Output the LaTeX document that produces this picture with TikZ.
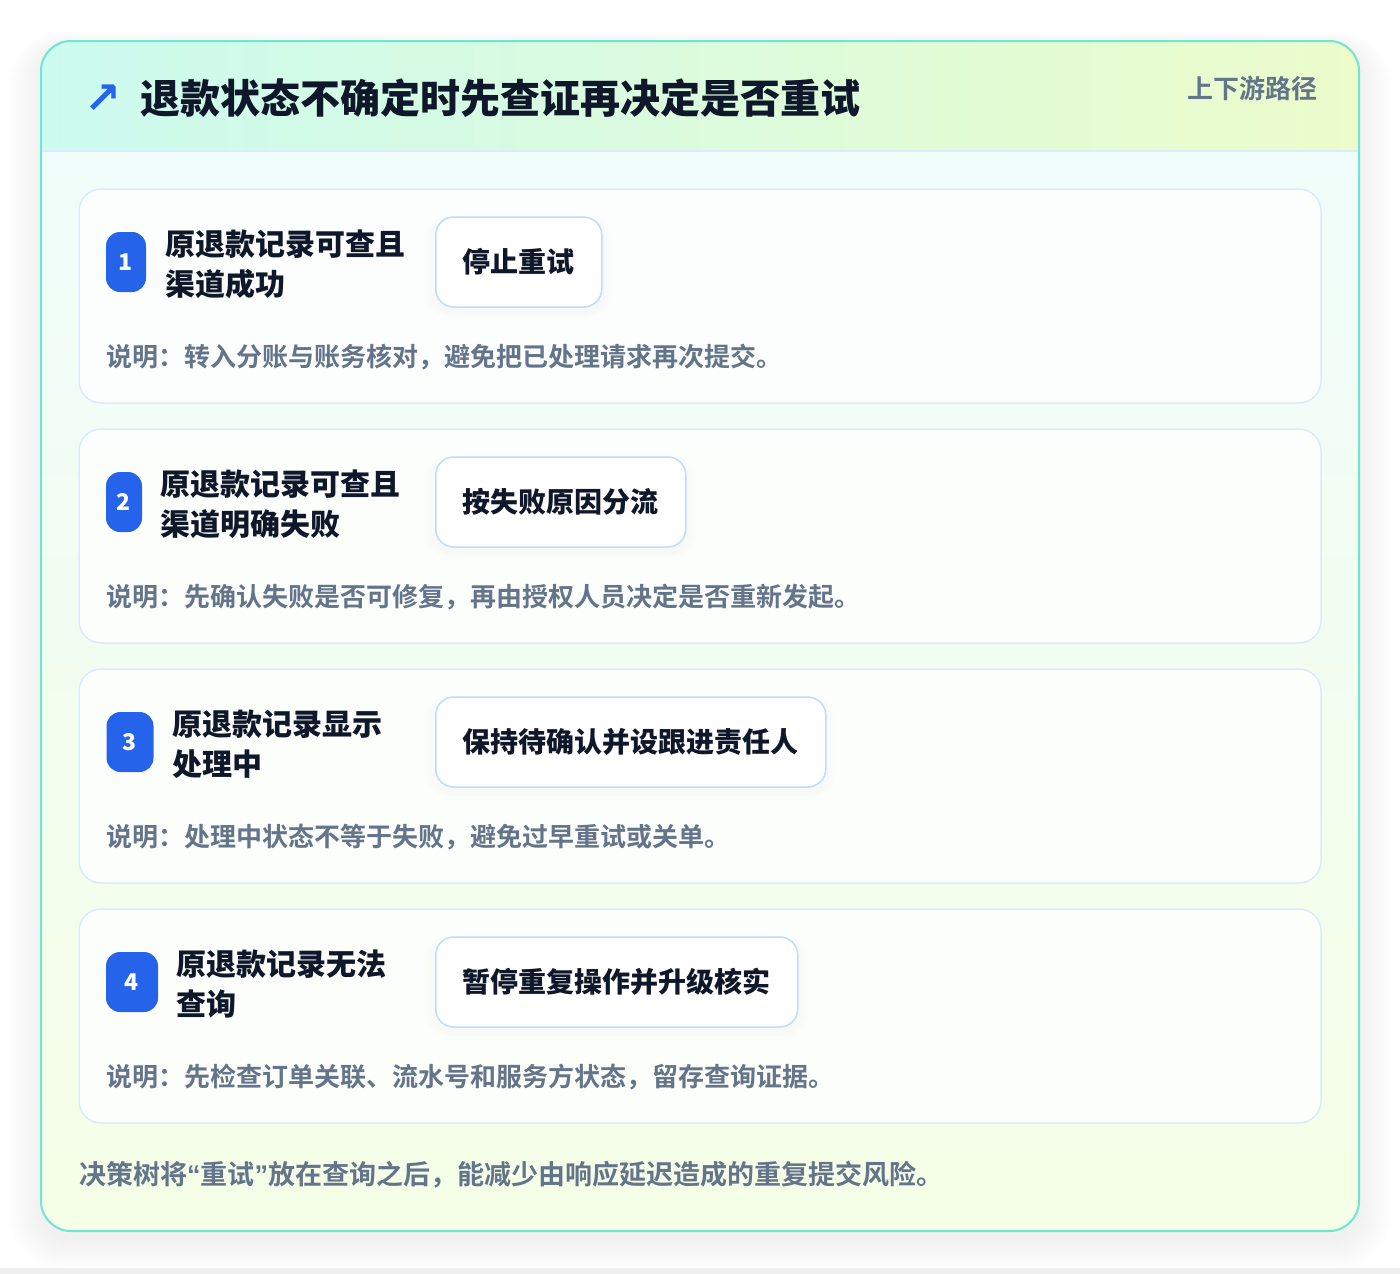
\documentclass[tikz,border=0pt]{standalone}
\usepackage{fontspec}
\setmainfont{Noto Sans CJK SC}[BoldFont={Noto Sans CJK SC Bold}]
\newfontface\heavy{Noto Sans CJK SC Black}
\newfontfamily\symfont{DejaVu Sans}
\newfontfamily\quotefont{Liberation Sans}
\definecolor{cardline}{HTML}{6EE7D2}
\definecolor{headleft}{HTML}{CCFBEF}
\definecolor{headright}{HTML}{ECFCCB}
\definecolor{bodytop}{HTML}{F0FDFA}
\definecolor{bodybottom}{HTML}{F5FEE6}
\definecolor{rowline}{HTML}{DBEAFE}
\definecolor{actline}{HTML}{BFDBFE}
\definecolor{badgeblue}{HTML}{2563EB}
\definecolor{inkdark}{HTML}{0F172A}
\definecolor{inkgray}{HTML}{64748B}
\pgfdeclarelayer{back}
\pgfdeclarelayer{shade}
\pgfsetlayers{back,shade,main}
\tikzset{
    rowbox/.style={draw=rowline, line width=1.5pt, rounded corners=22pt, fill=white, fill opacity=0.8},
    badge/.style={fill=badgeblue, rounded corners=14pt, minimum height=60pt, inner sep=0pt,
        text=white, font=\fontsize{23}{23}\selectfont\heavy},
    cond/.style={anchor=west, align=left, text=inkdark, inner sep=0pt,
        font=\fontsize{30}{40}\selectfont\heavy},
    action/.style={anchor=west, draw=actline, line width=1.5pt, rounded corners=18pt, fill=white,
        minimum height=90pt, inner xsep=27pt, text=inkdark, font=\fontsize{28}{28}\selectfont\heavy},
    note/.style={anchor=west, inner sep=0pt, text=inkgray, font=\fontsize{26}{26}\selectfont\bfseries}
}
\begin{document}
\begin{tikzpicture}[x=1pt, y=-1pt]
    \useasboundingbox (0, 0) rectangle (1400, 1274);

    % card
    \begin{pgfonlayer}{back}
        \fill[white] (0, 0) rectangle (1400, 1274);
        \foreach \i in {1,...,14}
            \fill[black, opacity=0.0045, rounded corners=30+2*\i]
                (41-2.4*\i, 47-1.2*\i) rectangle (1359+2.4*\i, 1241+2*\i);
        \fill[black!6] (0, 1268) rectangle (1400, 1274);
        \begin{scope}
            \clip[rounded corners=30pt] (41, 41) rectangle (1359, 1231);
            \shade[top color=bodytop, bottom color=bodybottom] (41, 151) rectangle (1359, 1231);
            \shade[left color=headleft, right color=headright] (41, 41) rectangle (1359, 151);
            \draw[rowline, line width=1.5pt] (41, 151) -- (1359, 151);
        \end{scope}
        \draw[cardline, line width=2pt, rounded corners=30pt] (41, 41) rectangle (1359, 1231);
    \end{pgfonlayer}

    \node[anchor=west, inner sep=0pt, text=badgeblue, font=\symfont\fontsize{44}{44}\selectfont\bfseries]
        (icon) at (84, 99) {↗};
    \node[anchor=west, inner sep=0pt, text=inkdark, font=\fontsize{40}{40}\selectfont\heavy]
        (title) at (140, 98) {退款状态不确定时先查证再决定是否重试};
    \node[anchor=east, inner sep=0pt, text=inkgray, font=\fontsize{26}{26}\selectfont\bfseries]
        (scope) at (1318, 89) {上下游路径};

    % rows
    \draw[rowbox] (79, 189) rectangle (1321, 403);
    \draw[rowbox] (79, 429) rectangle (1321, 643);
    \draw[rowbox] (79, 669) rectangle (1321, 883);
    \draw[rowbox] (79, 909) rectangle (1321, 1123);

    \node[badge, minimum width=40pt] (b1) at (126, 262) {1};
    \node[cond] (c1) at (165, 264) {原退款记录可查且\\渠道成功};
    \node[action] (a1) at (435, 262) {停止重试};
    \node[note] (n1) at (106, 357) {说明：转入分账与账务核对，避免把已处理请求再次提交。};

    \node[badge, minimum width=36pt] (b2) at (124, 502) {2};
    \node[cond] (c2) at (160, 504) {原退款记录可查且\\渠道明确失败};
    \node[action] (a2) at (435, 502) {按失败原因分流};
    \node[note] (n2) at (106, 597) {说明：先确认失败是否可修复，再由授权人员决定是否重新发起。};

    \node[badge, minimum width=47pt] (b3) at (130, 742) {3};
    \node[cond] (c3) at (172, 744) {原退款记录显示\\处理中};
    \node[action] (a3) at (435, 742) {保持待确认并设跟进责任人};
    \node[note] (n3) at (106, 837) {说明：处理中状态不等于失败，避免过早重试或关单。};

    \node[badge, minimum width=52pt] (b4) at (132, 982) {4};
    \node[cond] (c4) at (176, 984) {原退款记录无法\\查询};
    \node[action] (a4) at (435, 982) {暂停重复操作并升级核实};
    \node[note] (n4) at (106, 1077) {说明：先检查订单关联、流水号和服务方状态，留存查询证据。};

    \node[anchor=west, inner sep=0pt, text=inkgray, font=\fontsize{27}{27}\selectfont\bfseries]
        (summary) at (79, 1175) {决策树将{\quotefont\bfseries “}重试{\quotefont\bfseries ”}放在查询之后，能减少由响应延迟造成的重复提交风险。};

    % soft shadows under the action boxes
    \begin{pgfonlayer}{shade}
        \foreach \n in {a1,a2,a3,a4}
            \foreach \i in {1,...,8}
                \fill[black, opacity=0.012, rounded corners=18pt+\i pt]
                    ([xshift=-1.5*\i pt, yshift=-0.5*\i pt-6pt]\n.south west)
                    rectangle ([xshift=1.5*\i pt, yshift=0.8*\i pt-6pt]\n.north east);
    \end{pgfonlayer}
\end{tikzpicture}
\end{document}
